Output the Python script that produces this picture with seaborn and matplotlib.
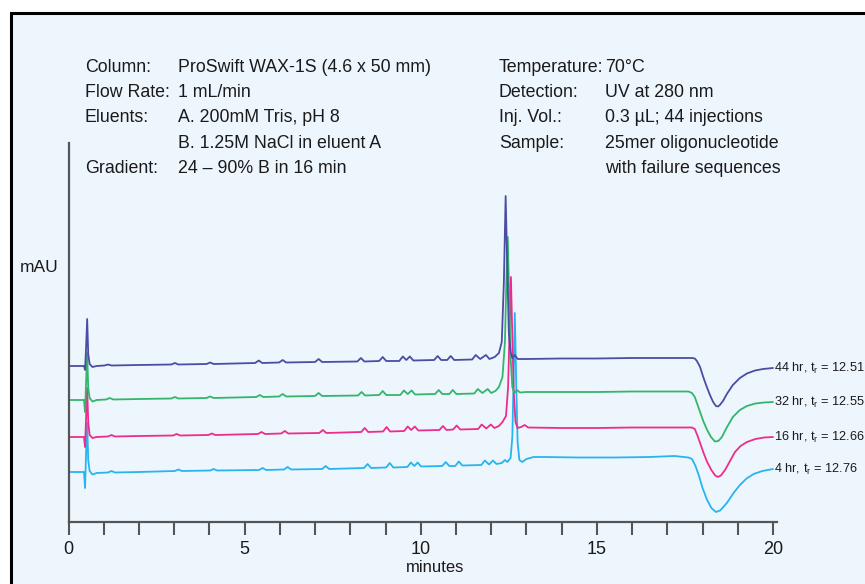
import pandas as pd
import matplotlib.pyplot as plt
import seaborn as sns
from matplotlib.patches import Rectangle
from matplotlib.ticker import MultipleLocator

run_44 = [(0.00, 156), (0.44, 156), (0.47, 152), (0.50, 175), (0.53, 203), (0.56, 168),
          (0.60, 158), (0.68, 155), (0.80, 156), (1.02, 156.5), (1.12, 157.5), (1.22, 156.5),
          (2.00, 157), (2.92, 157.5), (3.02, 159), (3.12, 157.5), (3.92, 158), (4.02, 159.5),
          (4.12, 158), (5.30, 159), (5.40, 161.5), (5.50, 159), (5.98, 159.5), (6.08, 162),
          (6.18, 159.5), (7.00, 160), (7.10, 163), (7.20, 160), (8.20, 160.5), (8.30, 164),
          (8.40, 160.5), (8.82, 161), (8.92, 165), (9.02, 161), (9.39, 161), (9.49, 165.5),
          (9.59, 162), (9.69, 165.5), (9.79, 161.5), (10.38, 162), (10.48, 166), (10.58, 162),
          (10.75, 162), (10.85, 166), (10.95, 162), (11.46, 162.5), (11.56, 167), (11.69, 163),
          (11.85, 167), (11.95, 163), (12.10, 165), (12.22, 169), (12.30, 180), (12.36, 240),
          (12.41, 326), (12.46, 250), (12.50, 190), (12.55, 170), (12.60, 164), (12.67, 167),
          (12.75, 163), (13.00, 163), (14.00, 163.5), (15.00, 163.5), (16.00, 164),
          (17.00, 164), (17.70, 164), (17.78, 163.5), (17.84, 161), (17.93, 155), (18.01, 146),
          (18.10, 137), (18.21, 127), (18.30, 120), (18.38, 116), (18.44, 115.5), (18.49, 117),
          (18.58, 121), (18.69, 128), (18.86, 137), (19.06, 144), (19.26, 148.5),
          (19.49, 151.5), (19.72, 153), (20.00, 154)]

run_32 = [(0.00, 122), (0.44, 122), (0.47, 110), (0.50, 140), (0.53, 169), (0.56, 134),
          (0.60, 124), (0.68, 120.5), (0.80, 122), (1.07, 122.5), (1.17, 124), (1.27, 122.5),
          (2.00, 123), (2.92, 123.5), (3.02, 125), (3.12, 123.5), (3.92, 124), (4.02, 125.5),
          (4.12, 124), (5.33, 125), (5.43, 127), (5.53, 125), (5.98, 125.5), (6.08, 128),
          (6.18, 125.5), (7.00, 126), (7.10, 129), (7.20, 126), (8.22, 126.5), (8.32, 130),
          (8.42, 126.5), (8.82, 127), (8.92, 131), (9.02, 127), (9.42, 127), (9.52, 131.5),
          (9.63, 128), (9.74, 131.5), (9.84, 127.5), (10.41, 128), (10.51, 132), (10.61, 128),
          (10.81, 128), (10.91, 132), (11.01, 128), (11.52, 128.5), (11.62, 133), (11.75, 129),
          (11.90, 133), (12.00, 129), (12.12, 131), (12.22, 135), (12.32, 145), (12.39, 180),
          (12.43, 240), (12.47, 285), (12.51, 225), (12.55, 165), (12.60, 135), (12.66, 129),
          (12.73, 132), (12.82, 129.5), (13.00, 130), (14.00, 130), (15.00, 130),
          (16.00, 130.5), (17.00, 130.5), (17.60, 130.5), (17.70, 129), (17.78, 125),
          (17.86, 117), (17.93, 110), (18.02, 101), (18.13, 92), (18.24, 85), (18.35, 80.5),
          (18.45, 81), (18.55, 85), (18.68, 94), (18.86, 105), (19.06, 112), (19.26, 116),
          (19.50, 118.5), (19.75, 119.5), (20.00, 120)]

run_16 = [(0.00, 85), (0.44, 85), (0.47, 75), (0.50, 105), (0.53, 134), (0.56, 100),
          (0.60, 87), (0.68, 84), (0.80, 85), (1.12, 85.5), (1.22, 87), (1.32, 85.5),
          (2.00, 86), (2.97, 86.5), (3.07, 88), (3.17, 86.5), (3.97, 87), (4.07, 88.5),
          (4.17, 87), (5.38, 88), (5.48, 90), (5.58, 88), (6.04, 88.5), (6.14, 91),
          (6.24, 88.5), (7.12, 89), (7.22, 92), (7.32, 89), (8.31, 90), (8.41, 94),
          (8.51, 90), (8.93, 90.5), (9.03, 95), (9.13, 90.5), (9.53, 91), (9.63, 95.5),
          (9.73, 92), (9.83, 95.5), (9.93, 91.5), (10.53, 92), (10.63, 96), (10.73, 92),
          (10.92, 92.5), (11.02, 96.5), (11.12, 92.5), (11.63, 93), (11.73, 97.5), (11.86, 93.5),
          (11.99, 97.5), (12.09, 94), (12.22, 96), (12.32, 100), (12.42, 106), (12.48, 135),
          (12.52, 190), (12.56, 245), (12.60, 185), (12.64, 130), (12.69, 100), (12.75, 94),
          (12.85, 95), (12.95, 97), (13.05, 94.5), (14.00, 94), (15.00, 94), (16.00, 94.5),
          (17.00, 94.5), (17.70, 94.5), (17.78, 93), (17.86, 86), (17.93, 79), (18.03, 69),
          (18.13, 60), (18.25, 52), (18.36, 46.5), (18.44, 45), (18.52, 46.5), (18.64, 52),
          (18.78, 61), (18.92, 70), (19.08, 76), (19.26, 80), (19.50, 83), (19.75, 84.5),
          (20.00, 85)]

run_4 = [(0.00, 50), (0.44, 50), (0.47, 34), (0.50, 70), (0.53, 99), (0.56, 62),
         (0.60, 51), (0.68, 47.5), (0.80, 49), (1.12, 49.5), (1.22, 51), (1.32, 49.5),
         (2.00, 50), (3.02, 51), (3.12, 52.5), (3.22, 51), (4.02, 51.5), (4.12, 53),
         (4.22, 51.5), (5.41, 52), (5.51, 54), (5.61, 52), (6.12, 52.5), (6.22, 55),
         (6.32, 52.5), (7.20, 53), (7.30, 56), (7.40, 53), (8.39, 54), (8.49, 58),
         (8.59, 54), (9.02, 54.5), (9.12, 59), (9.22, 54.5), (9.62, 55), (9.72, 59.5),
         (9.82, 56), (9.91, 59.5), (10.01, 55.5), (10.61, 56), (10.71, 60), (10.81, 56),
         (10.98, 56), (11.08, 60.5), (11.18, 56.5), (11.72, 57), (11.82, 61.5), (11.94, 57.5),
         (12.05, 61.5), (12.15, 58), (12.30, 59), (12.39, 62), (12.46, 60), (12.55, 64),
         (12.60, 85), (12.64, 150), (12.67, 209), (12.71, 140), (12.75, 80), (12.80, 62),
         (12.88, 60), (13.00, 63), (13.20, 65), (13.50, 65), (14.50, 64.5), (15.50, 64.5),
         (16.50, 65), (17.20, 66), (17.60, 64.5), (17.70, 63), (17.80, 56), (17.90, 46),
         (18.00, 34), (18.13, 22), (18.25, 14), (18.38, 10), (18.50, 11.5), (18.69, 19),
         (18.88, 29), (19.06, 37), (19.25, 43.5), (19.45, 48), (19.70, 51), (20.00, 53)]

run_names = ['44 hr', '32 hr', '16 hr', '4 hr']
retention = ['12.51', '12.55', '12.66', '12.76']
run_colors = ['#4b4ca3', '#33b56c', '#ec2d8c', '#28b4ee']

left_labels = ['Column:', 'Flow Rate:', 'Eluents:', '', 'Gradient:']
left_values = ['ProSwift WAX-1S (4.6 x 50 mm)', '1 mL/min', 'A. 200mM Tris, pH 8',
               'B. 1.25M NaCl in eluent A', '24 \u2013 90% B in 16 min']
right_labels = ['Temperature:', 'Detection:', 'Inj. Vol.:', 'Sample:', '']
right_values = ['70\u00b0C', 'UV at 280 nm', '0.3 \u00b5L; 44 injections',
                '25mer oligonucleotide', 'with failure sequences']

runs = [run_44, run_32, run_16, run_4]
frames = []
for name, pts in zip(run_names, runs):
    d = pd.DataFrame(pts, columns=['time', 'signal'])
    d['run'] = name
    frames.append(d)
df = pd.concat(frames, ignore_index=True)

sns.set_theme(style='white')
plt.rcParams['font.family'] = ['Liberation Sans', 'DejaVu Sans']

W, H = 865, 584
fig = plt.figure(figsize=(W / 100, H / 100), dpi=100)
fig.patch.set_facecolor('white')

# light blue panel with black frame (runs off the right and bottom edges)
fig.patches.append(Rectangle((11 / W, -0.05), 1.2, 1 - 13 / H + 0.05,
                             transform=fig.transFigure, facecolor='#eef6fd',
                             edgecolor='black', lw=2.2, zorder=-5))

ax_l, ax_r, ax_b, ax_t = 68.5, 777, 522, 143
ax = fig.add_axes([ax_l / W, 1 - ax_b / H, (ax_r - ax_l) / W, (ax_b - ax_t) / H])
ax.patch.set_alpha(0)
ax.set_zorder(2)

sns.lineplot(data=df, x='time', y='signal', hue='run', hue_order=run_names[::-1],
             palette=dict(zip(run_names, run_colors)), sort=False, estimator=None,
             legend=False, lw=1.3, ax=ax)

x_max = 20 + (ax_r - 773) / 35.2
ax.set_xlim(0, x_max)
ax.set_ylim(0, ax_b - ax_t)

for sp in ['top', 'right']:
    ax.spines[sp].set_visible(False)
for sp in ['left', 'bottom']:
    ax.spines[sp].set_color('#555555')
    ax.spines[sp].set_linewidth(1.6)

ax.xaxis.set_major_locator(MultipleLocator(5))
ax.xaxis.set_minor_locator(MultipleLocator(1))
ax.tick_params(axis='x', which='both', direction='out', length=9, width=1.5,
               color='#555555', bottom=True)
ax.tick_params(axis='x', which='major', labelsize=13, pad=5, labelcolor='#1a1a1a')
ax.set_yticks([])

ax.set_xlabel('minutes', fontsize=12, color='#1a1a1a')
ax.xaxis.set_label_coords((435 - ax_l) / (ax_r - ax_l), -(567 - ax_b) / (ax_b - ax_t))
ax.xaxis.label.set_va('center')
ax.set_ylabel('mAU', rotation=0, fontsize=12.5, color='#1a1a1a', ha='left', va='center')
ax.yaxis.set_label_coords((20 - ax_l) / (ax_r - ax_l), (ax_b - 268) / (ax_b - ax_t))

# run labels at the end of each trace
for name, rt, pts in zip(run_names, retention, runs):
    ax.text(20.02, pts[-1][1], f'{name}, t$_\\mathregular{{r}}$ = {rt}', fontsize=9.2,
            va='center', ha='left', color='#1a1a1a', clip_on=False)

# method conditions block
row_y = [67, 92.3, 117.6, 143, 168.3]
for i in range(5):
    yy = 1 - row_y[i] / H
    fig.text(85 / W, yy, left_labels[i], fontsize=12.8, va='center', color='#1a1a1a')
    fig.text(178 / W, yy, left_values[i], fontsize=12.8, va='center', color='#1a1a1a')
    fig.text(499 / W, yy, right_labels[i], fontsize=12.8, va='center', color='#1a1a1a')
    fig.text(605 / W, yy, right_values[i], fontsize=12.8, va='center', color='#1a1a1a')

plt.savefig('out.png', dpi=100)
plt.close()
